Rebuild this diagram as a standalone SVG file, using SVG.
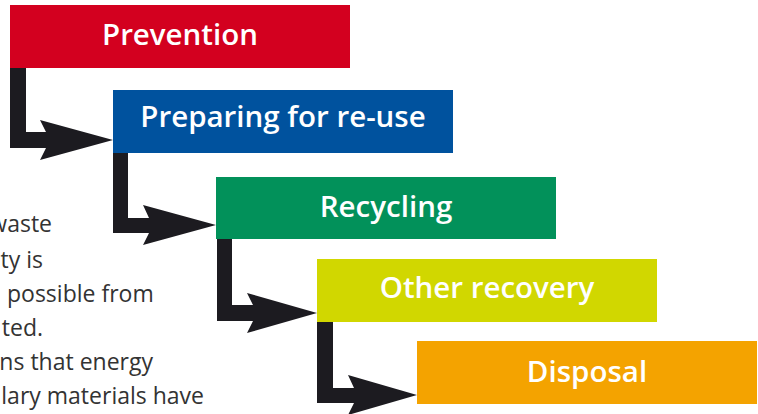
<svg xmlns="http://www.w3.org/2000/svg" width="758" height="414" viewBox="0 0 758 414">
<style>
.lbl{font-family:"Open Sans","Liberation Sans",sans-serif;font-weight:600;font-size:29.5px;fill:#ffffff;text-anchor:middle}
.body{font-family:"Open Sans","Liberation Sans",sans-serif;font-size:23px;fill:#333333}
.arr{fill:#1c1b20}
</style>
<rect width="758" height="414" fill="#ffffff"/>
<g id="body-text">
<text class="body" x="52" y="232" text-anchor="end">waste</text>
<text class="body" x="43" y="268" text-anchor="end">ty is</text>
<text class="body" x="7" y="302">possible from</text>
<text class="body" x="43" y="336" text-anchor="end">ted.</text>
<text class="body" x="153" y="370" text-anchor="end">ns that energy</text>
<text class="body" x="204" y="404" text-anchor="end">lary materials have</text>
</g>
<g id="connectors">
<path class="arr" d="M10,67 H26 V132 H46 L40,120 L113,140 L40,160 L46,148 H10 Z"/>
<path class="arr" d="M113,152 H128 V218 H149 L143,205 L216,225 L143,245 L149,233 H113 Z"/>
<path class="arr" d="M217,238 H232 V305 H253 L247,293 L317,313 L247,333 L253,321 H217 Z"/>
<path class="arr" d="M317,321 H333 V388 H354 L348,375 L417,395 L348,415 L354,403 H317 Z"/>
</g>
<g id="prevention">
<rect x="10" y="5" width="340" height="63" fill="#d3001f"/>
<text class="lbl" x="180" y="45">Prevention</text>
</g>
<g id="preparing">
<rect x="113" y="90" width="340" height="63" fill="#00529e"/>
<text class="lbl" x="283" y="127">Preparing for re-use</text>
</g>
<g id="recycling">
<rect x="216" y="177" width="340" height="62" fill="#02915a"/>
<text class="lbl" x="386" y="217">Recycling</text>
</g>
<g id="other-recovery">
<rect x="317" y="259" width="340" height="63" fill="#d1d700"/>
<text class="lbl" x="487" y="298">Other recovery</text>
</g>
<g id="disposal">
<rect x="417" y="341" width="340" height="63" fill="#f4a300"/>
<text class="lbl" x="587" y="382">Disposal</text>
</g>
</svg>
